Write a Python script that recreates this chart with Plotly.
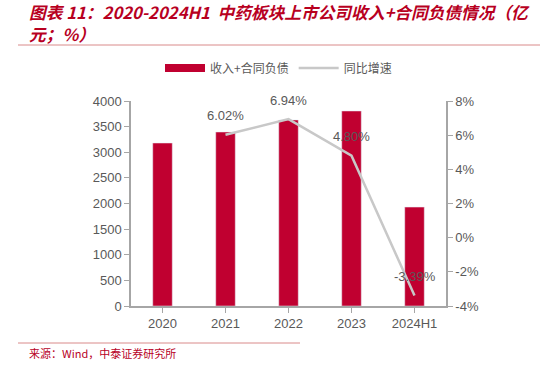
import plotly.graph_objects as go

categories = ["2020", "2021", "2022", "2023", "2024H1"]
revenue = [3180, 3395, 3630, 3805, 1930]
growth_cats = ["2021", "2022", "2023", "2024H1"]
growth = [6.02, 6.94, 4.80, -3.39]
growth_labels = ["6.02%", "6.94%", "4.80%", "-3.39%"]
left_ticks = [0, 500, 1000, 1500, 2000, 2500, 3000, 3500, 4000]
right_ticks = [-4, -2, 0, 2, 4, 6, 8]
right_tick_text = ["-4%", "-2%", "0%", "2%", "4%", "6%", "8%"]

W, H = 557, 366
L, R, T, B = 131, 111, 101, 60
RED = "#C00030"

fig = go.Figure()
fig.add_trace(go.Bar(
    x=categories, y=revenue, name="收入+合同负债",
    marker_color=RED, width=0.31, yaxis="y", showlegend=False))
# legend-only entry to mimic the wide red legend key
fig.add_trace(go.Scatter(
    x=[categories[0]], y=[None], name="收入+合同负债", mode="lines",
    line=dict(color=RED, width=8), yaxis="y"))
fig.add_trace(go.Scatter(
    x=growth_cats, y=growth, name="同比增速", yaxis="y2",
    mode="lines", line=dict(color="#C8C8C8", width=2.5)))

for c, v, t in zip(growth_cats, growth, growth_labels):
    fig.add_annotation(x=categories.index(c), y=v, xref="x", yref="y2", text=t, showarrow=False,
                       yshift=19, font=dict(size=13, color="#595959", family="Liberation Sans"))

axis_font = dict(size=13, color="#595959", family="Liberation Sans")
fig.update_layout(
    width=W, height=H,
    margin=dict(l=L, r=R, t=T, b=B, autoexpand=False),
    plot_bgcolor="white", paper_bgcolor="white",
    showlegend=True,
    legend=dict(orientation="h", x=(160 - L) / (W - L - R), y=1 + (T - 68) / (H - T - B),
                xanchor="left", yanchor="middle",
                font=dict(size=12, color="#595959", family="Noto Sans CJK SC"),
                itemwidth=40, tracegroupgap=0, bgcolor="rgba(0,0,0,0)"),
    xaxis=dict(type="category", categoryorder="array", categoryarray=categories,
               showline=True, linecolor="#A6A6A6", linewidth=1.5,
               ticks="outside", ticklen=5, tickcolor="#A6A6A6",
               tickfont=axis_font, showgrid=False),
    yaxis=dict(range=[0, 4000], tickvals=left_ticks, showline=True, linecolor="#A6A6A6",
               linewidth=1.5, ticks="outside", ticklen=5, tickcolor="#A6A6A6",
               tickfont=axis_font, showgrid=False, zeroline=False),
    yaxis2=dict(range=[-4, 8], tickvals=right_ticks, ticktext=right_tick_text,
                overlaying="y", side="right",
                showline=True, linecolor="#A6A6A6", linewidth=1.5,
                ticks="outside", ticklen=5, tickcolor="#A6A6A6",
                tickfont=axis_font, showgrid=False, zeroline=False),
)

title_font = dict(size=16.7, color="#B8001F", family="Noto Sans CJK SC")
fig.add_annotation(text="<b><i>图表 11：2020-2024H1  中药板块上市公司收入+合同负债情况（亿</i></b>",
                   xref="paper", yref="paper", x=(27 - L) / (W - L - R),
                   y=1 + (T - 12) / (H - T - B), xanchor="left", yanchor="middle",
                   showarrow=False, font=title_font)
fig.add_annotation(text="<b><i>元；%）</i></b>",
                   xref="paper", yref="paper", x=(27 - L) / (W - L - R),
                   y=1 + (T - 34) / (H - T - B), xanchor="left", yanchor="middle",
                   showarrow=False, font=title_font)
fig.add_annotation(text="来源：Wind，中泰证券研究所",
                   xref="paper", yref="paper", x=(27 - L) / (W - L - R),
                   y=-(353 - (H - B)) / (H - T - B), xanchor="left", yanchor="middle",
                   showarrow=False, font=dict(size=11, color="#B8001F", family="Noto Sans CJK SC"))

def hline(ypix, x0, x1, color):
    fig.add_shape(type="line", xref="paper", yref="paper",
                  x0=(x0 - L) / (W - L - R), x1=(x1 - L) / (W - L - R),
                  y0=1 - (ypix - T) / (H - T - B), y1=1 - (ypix - T) / (H - T - B),
                  line=dict(color=color, width=1))

hline(45, 18, 540, "#D98A8A")
hline(343, 18, 300, "#D98A8A")

fig.write_html("out.html", config={"displayModeBar": False},
               post_script="document.body.style.margin='0';document.body.style.overflow='hidden';")
